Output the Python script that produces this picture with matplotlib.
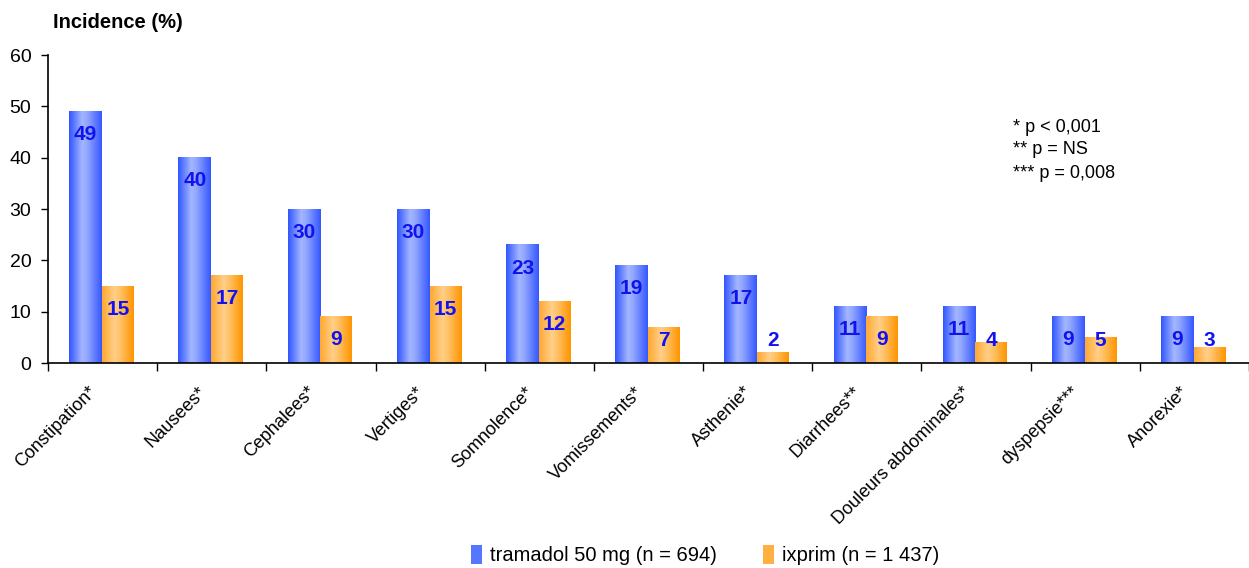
"""Incidence des effets indesirables: tramadol vs ixprim."""

import matplotlib
matplotlib.use("Agg")
import matplotlib.pyplot as plt
import matplotlib.patches as patches
from matplotlib.colors import LinearSegmentedColormap
import numpy as np

plt.rcParams['font.family'] = ['Liberation Sans', 'DejaVu Sans']

categories = ['Constipation*', 'Nausees*', 'Cephalees*', 'Vertiges*',
              'Somnolence*', 'Vomissements*', 'Asthenie*', 'Diarrhees**',
              'Douleurs abdominales*', 'dyspepsie***', 'Anorexie*']
tramadol = [49, 40, 30, 30, 23, 19, 17, 11, 11, 9, 9]
ixprim = [15, 17, 9, 15, 12, 7, 2, 9, 4, 5, 3]
series_names = ['tramadol 50 mg (n = 694)', 'ixprim (n = 1 437)']
notes = ['* p < 0,001', '** p = NS', '*** p = 0,008']

label_color = '#1212ee'
blue_cmap = LinearSegmentedColormap.from_list(
    'blue', [(0, '#3256ff'), (0.4, '#a3b6ff'), (0.55, '#93a8ff'), (1, '#3658ff')])
orange_cmap = LinearSegmentedColormap.from_list(
    'orange', [(0, '#ffa830'), (0.4, '#ffcf88'), (0.6, '#ffbf60'), (1, '#ff9500')])
grad = np.linspace(0, 1, 64).reshape(1, -1)

fig = plt.figure(figsize=(12.49, 5.68), dpi=100)
ax = fig.add_axes([48/1249, 1-363/568, 1-48/1249, 308/568])

def grad_bar(x0, width, height, cmap):
    ax.imshow(grad, cmap=cmap, extent=[x0, x0 + width, 0, height],
              aspect='auto', origin='lower', zorder=2, interpolation='bilinear')

def value_label(x, v):
    y = max(v - 4.5, 4.4)
    ax.text(x, y, str(v), ha='center', va='center', fontsize=15,
            fontweight='bold', color=label_color, zorder=3)

bw = 0.3
for i in range(len(categories)):
    xb = i + 0.195
    xo = xb + bw
    grad_bar(xb, bw, tramadol[i], blue_cmap)
    grad_bar(xo, bw - 0.01, ixprim[i], orange_cmap)
    value_label(xb + bw/2, tramadol[i])
    value_label(xo + (bw - 0.01)/2, ixprim[i])

ax.set_xlim(0, len(categories))
ax.set_ylim(0, 60)
ax.set_yticks(np.arange(0, 61, 10))
ax.set_xticks(np.arange(0, len(categories) + 1))
ax.set_xticklabels([])
ax.tick_params(axis='y', labelsize=14, length=5, width=1, pad=7)
ax.tick_params(axis='x', length=6, width=1, direction='out')
for s in ['top', 'right']:
    ax.spines[s].set_visible(False)
for s in ['left', 'bottom']:
    ax.spines[s].set_linewidth(1.2)

for i, cat in enumerate(categories):
    ax.text(i + 0.37, -4.0, cat, rotation=45, ha='right', va='top',
            rotation_mode='anchor', fontsize=13, clip_on=False)

fig.text(53/1249, 1-23/568, 'Incidence (%)', fontsize=14.5, fontweight='bold',
         va='center', ha='left')

for k, note in enumerate(notes):
    fig.text(1013/1249, 1-(127 + 23*k)/568, note, fontsize=13, va='center')

handles = [patches.Patch(facecolor='#5577ff', edgecolor='none'),
           patches.Patch(facecolor='#ffb040', edgecolor='none')]
fig.legend(handles, series_names, loc='center', ncol=2, frameon=False,
           bbox_to_anchor=(0.5645, 0.023), fontsize=14.5, handlelength=0.55,
           handleheight=1.1, handletextpad=0.4, columnspacing=2.3)

plt.savefig('out.png', dpi=100)
